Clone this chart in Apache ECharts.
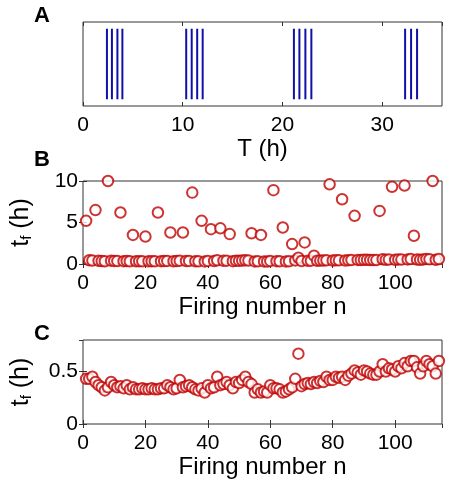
<!DOCTYPE html>
<html><head><meta charset="utf-8">
<script src="https://cdn.jsdelivr.net/npm/echarts@6/dist/echarts.min.js"></script>
<style>html,body{margin:0;padding:0;background:#fff}#c{width:450px;height:487px}</style>
</head><body><div id="c"></div>
<script>
// Panel A: firing times (h)
const spikeTimes = [2.4, 2.9, 3.45, 3.95, 10.35, 10.9, 11.45, 12.0, 21.15, 21.7, 22.3, 22.9, 32.3, 32.9, 33.5];
// Panel B: t_f (h) for firing number n = 1..114
const tfB = [5.2,0.45,0.42,6.5,0.38,0.35,0.33,10.0,0.40,0.37,
  0.35,6.2,0.34,0.36,0.33,3.5,0.33,0.34,0.33,3.3,
  0.33,0.34,0.33,6.2,0.34,0.35,0.37,3.8,0.33,0.35,
  0.40,3.8,0.36,0.37,8.6,0.33,0.32,5.2,0.31,0.37,
  4.2,0.35,0.45,4.3,0.38,0.40,3.6,0.34,0.40,0.39,
  0.42,0.45,0.42,3.7,0.31,0.33,3.5,0.31,0.30,0.37,
  8.9,0.34,0.33,4.4,0.31,0.33,2.4,0.43,0.75,0.36,
  2.6,0.39,0.40,1.0,0.39,0.41,0.42,0.45,9.6,0.42,
  0.45,0.44,7.8,0.42,0.46,0.48,5.8,0.49,0.47,0.51,
  0.50,0.48,0.47,0.47,6.4,0.57,0.50,0.53,9.3,0.50,
  0.55,0.53,9.45,0.55,0.60,3.4,0.54,0.50,0.55,0.60,
  0.57,10.0,0.50,0.60];
// Panel C: t_f (h) for firing number n = 1..114
const tfC = [0.43,0.43,0.45,0.40,0.37,0.35,0.32,0.35,0.40,0.37,
  0.35,0.36,0.34,0.37,0.33,0.35,0.33,0.33,0.34,0.33,
  0.33,0.34,0.33,0.33,0.34,0.34,0.37,0.35,0.33,0.34,
  0.42,0.35,0.36,0.37,0.35,0.33,0.32,0.34,0.30,0.37,
  0.34,0.35,0.45,0.37,0.38,0.40,0.37,0.34,0.40,0.39,
  0.42,0.45,0.40,0.38,0.30,0.33,0.30,0.31,0.30,0.37,
  0.34,0.34,0.33,0.30,0.31,0.33,0.35,0.43,0.67,0.36,
  0.38,0.39,0.38,0.40,0.39,0.41,0.40,0.45,0.42,0.42,
  0.45,0.44,0.45,0.42,0.46,0.48,0.51,0.49,0.47,0.51,
  0.50,0.48,0.47,0.47,0.50,0.57,0.50,0.53,0.52,0.50,
  0.55,0.53,0.58,0.55,0.60,0.60,0.54,0.48,0.55,0.60,
  0.57,0.55,0.48,0.60];

const FONT = 'Liberation Sans, Arial, Helvetica, sans-serif';
const AXC = '#333';
const RED = '#c00000';
const BLUE = '#1010a8';

const grids = [
  {left: 83, top: 22, width: 359, height: 84},
  {left: 83, top: 181, width: 359, height: 83},
  {left: 83, top: 340, width: 359, height: 84}
].map(g => Object.assign({show: true, borderColor: AXC, borderWidth: 1, backgroundColor: '#fff'}, g));

function xAx(gi, max, interval, name, pos) {
  const top = pos === 'top';
  return {
    type: 'value', gridIndex: gi, min: 0, max: max, interval: interval, position: pos || 'bottom',
    name: top ? '' : name, nameLocation: 'middle', nameGap: 31,
    nameTextStyle: {fontFamily: FONT, fontSize: 24, color: '#000'},
    axisLine: {show: false}, splitLine: {show: false},
    axisTick: {show: true, inside: true, length: 4, lineStyle: {color: AXC}},
    axisLabel: {show: !top, margin: 9, fontFamily: FONT, fontSize: 21, color: '#000', showMaxLabel: false}
  };
}
function yAx(gi, max, interval, withName, pos, ticks) {
  const right = pos === 'right';
  return {
    type: 'value', gridIndex: gi, min: 0, max: max, interval: interval, position: pos || 'left',
    name: (withName && !right) ? '{a|t}{b|f}{a| (h)}' : '', nameLocation: 'middle', nameGap: 49,
    nameTextStyle: {fontFamily: FONT, fontSize: 24, color: '#000',
      rich: {a: {fontFamily: FONT, fontSize: 25, lineHeight: 25, color: '#000'},
             b: {fontFamily: FONT, fontSize: 15, lineHeight: 6, verticalAlign: 'bottom', color: '#000'}}},
    axisLine: {show: false}, splitLine: {show: false},
    axisTick: {show: ticks, inside: true, length: 4, lineStyle: {color: AXC}},
    axisLabel: {show: ticks && !right, margin: 5, fontFamily: FONT, fontSize: 21, color: '#000', showMaxLabel: max === 10}
  };
}

const circle = {symbol: 'emptyCircle', symbolSize: 10.5, itemStyle: {color: RED, borderColor: RED, borderWidth: 1.9}};

const chart = echarts.init(document.getElementById('c'), null, {renderer: 'canvas'});
chart.setOption({
  animation: false,
  backgroundColor: '#fff',
  grid: grids,
  xAxis: [
    xAx(0, 36, 10, 'T (h)'), xAx(0, 36, 10, '', 'top'),
    xAx(1, 115, 20, 'Firing number n'), xAx(1, 115, 20, '', 'top'),
    xAx(2, 115, 20, 'Firing number n'), xAx(2, 115, 20, '', 'top')
  ],
  yAxis: [
    yAx(0, 1, 1, false, 'left', false),
    yAx(1, 10, 5, true, 'left', true), yAx(1, 10, 5, false, 'right', true),
    yAx(2, 0.8, 0.5, true, 'left', true), yAx(2, 0.8, 0.5, false, 'right', true)
  ],
  graphic: [
    {type: 'text', left: 34, top: 5, style: {text: 'A', font: 'bold 22px ' + FONT, fill: '#000'}},
    {type: 'text', left: 34, top: 149, style: {text: 'B', font: 'bold 22px ' + FONT, fill: '#000'}},
    {type: 'text', left: 34, top: 323, style: {text: 'C', font: 'bold 22px ' + FONT, fill: '#000'}}
  ],
  series: [
    {
      type: 'custom', xAxisIndex: 0, yAxisIndex: 0,
      data: spikeTimes.map(t => [t]),
      encode: {x: 0},
      renderItem: function (params, api) {
        const x = api.value(0);
        const p0 = api.coord([x, 0.08]);
        const p1 = api.coord([x, 0.92]);
        return {type: 'line', shape: {x1: p0[0], y1: p0[1], x2: p1[0], y2: p1[1]},
                style: {stroke: BLUE, lineWidth: 2}};
      }
    },
    Object.assign({type: 'scatter', xAxisIndex: 2, yAxisIndex: 1, clip: false,
      data: tfB.map((v, i) => [i + 1, v])}, circle),
    Object.assign({type: 'scatter', xAxisIndex: 4, yAxisIndex: 3, clip: false,
      data: tfC.map((v, i) => [i + 1, v])}, circle)
  ]
});
</script></body></html>
